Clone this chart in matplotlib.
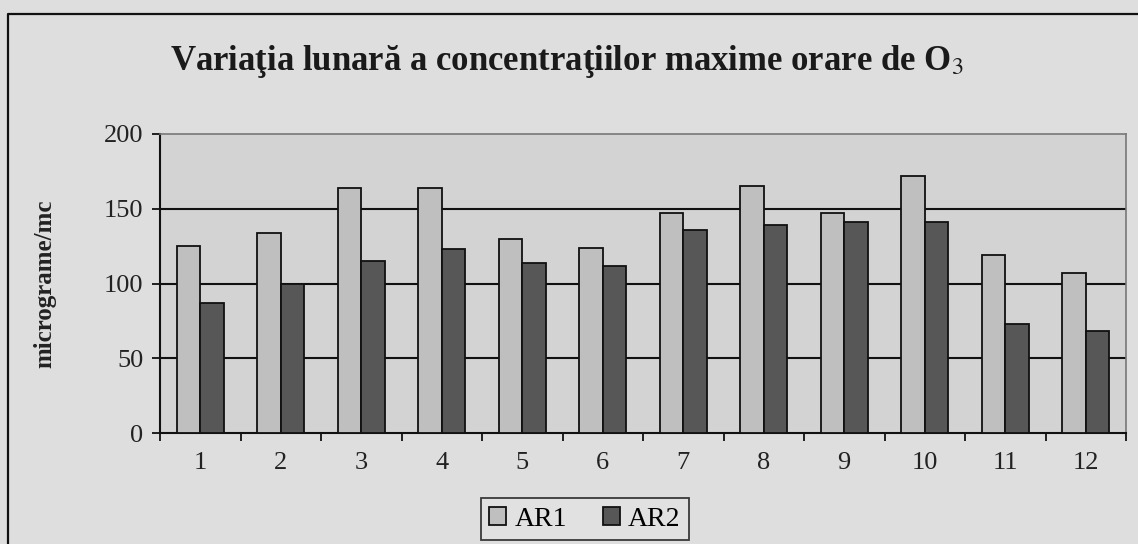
import matplotlib
matplotlib.use("Agg")
import matplotlib.pyplot as plt
import numpy as np
from matplotlib.lines import Line2D

months = ["1", "2", "3", "4", "5", "6", "7", "8", "9", "10", "11", "12"]
ar1 = [125, 134, 164, 164, 130, 124, 147, 165, 147, 172, 119, 107]
ar2 = [87, 100, 115, 123, 114, 112, 136, 139, 141, 141, 73, 68]
yticks = [0, 50, 100, 150, 200]

plt.rcParams['font.family'] = ['Liberation Serif', 'DejaVu Serif']

W, H = 1138, 544
fig = plt.figure(figsize=(W / 100, H / 100), dpi=100, facecolor='#dedede')

# outer border: only left and top edges are visible in the picture
fig.lines.append(Line2D([8 / W, 8 / W, 1.0], [0.0, 1 - 14 / H, 1 - 14 / H], transform=fig.transFigure,
                        color='#111111', linewidth=1.6))

ax = fig.add_axes([160 / W, 1 - 433 / H, (1126 - 160) / W, (433 - 134) / H])
ax.set_facecolor('#d3d3d3')

x = np.arange(len(months))
w = 0.29
ax.bar(x - w / 2, ar1, w, color='#bfbfbf', edgecolor='#111111', linewidth=1.3, label='AR1', zorder=3)
ax.bar(x + w / 2, ar2, w, color='#575757', edgecolor='#111111', linewidth=1.3, label='AR2', zorder=3)

ax.set_xlim(-0.5, len(months) - 0.5)
ax.set_ylim(0, 200)
ax.set_yticks(yticks)
ax.set_yticklabels([str(t) for t in yticks], fontsize=19, color='#222222')
ax.set_xticks(x)
ax.set_xticklabels(months, fontsize=19, color='#222222')
ax.tick_params(axis='x', which='major', length=0, pad=14)
ax.set_xticks(np.arange(-0.5, len(months)), minor=True)
ax.tick_params(axis='x', which='minor', length=6, width=1.3, direction='out', color='#111111')
ax.tick_params(axis='y', length=6, width=1.3, direction='out', color='#111111', pad=6)

for t in [50, 100, 150]:
    ax.axhline(t, color='#111111', linewidth=1.5, zorder=1)

for s in ['left', 'bottom']:
    ax.spines[s].set_color('#111111')
    ax.spines[s].set_linewidth(1.5)
for s in ['top', 'right']:
    ax.spines[s].set_color('#777777')
    ax.spines[s].set_linewidth(1.2)

ax.set_ylabel('micrograme/mc', fontsize=18, fontweight='bold', color='#222222', labelpad=34)

fig.text(0.498, 1 - 62 / H, 'Variaţia lunară a concentraţiilor maxime orare de O$_3$',
         ha='center', va='center', fontsize=25, fontweight='bold', color='#1a1a1a',
         math_fontfamily='stix')

leg = ax.legend(loc='center', bbox_to_anchor=(585 / W, 1 - 519 / H), bbox_transform=fig.transFigure,
                ncol=2, fontsize=20, frameon=True, fancybox=False, handlelength=0.6, handleheight=0.6,
                handletextpad=0.3, columnspacing=1.3, borderpad=0.3)
leg.get_frame().set_edgecolor('#111111')
leg.get_frame().set_linewidth(1.3)
leg.get_frame().set_facecolor('#e2e2e2')

fig.savefig('out.png', dpi=100, facecolor=fig.get_facecolor())
